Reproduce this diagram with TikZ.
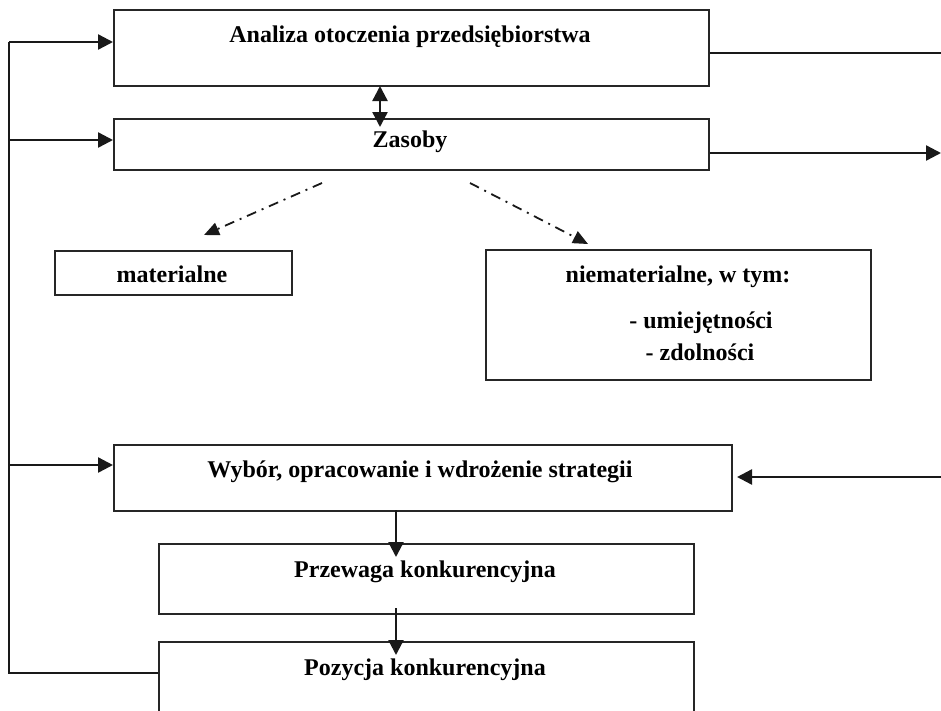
\documentclass[tikz,border=0pt]{standalone}
\usepackage{fontspec}
\setmainfont{Liberation Serif}
\usetikzlibrary{arrows.meta}
\begin{document}
\begin{tikzpicture}[x=1pt,y=-1pt,
  box/.style={draw=black!85,line width=2pt,rectangle,anchor=north west,inner sep=0pt},
  lbl/.style={font=\fontsize{24}{27}\selectfont\bfseries,inner sep=0pt,anchor=base},
  conn/.style={line width=2.4pt,black!90},
  tip/.style={-{Triangle[length=15pt,width=15pt]}},
  dd/.style={line width=1.8pt,black!90,dash pattern=on 10pt off 6pt on 2pt off 6pt,-{Triangle[length=15pt,width=13pt]}}]
\useasboundingbox (0,0) rectangle (941,710);
% boxes
\node[box,minimum width=595pt,minimum height=76pt] (A) at (113,9) {};
\node[box,minimum width=595pt,minimum height=51pt] (Z) at (113,118) {};
\node[box,minimum width=237pt,minimum height=44pt] (M) at (54,250) {};
\node[box,minimum width=385pt,minimum height=130pt] (N) at (485,249) {};
\node[box,minimum width=618pt,minimum height=66pt] (W) at (113,444) {};
\node[box,minimum width=535pt,minimum height=70pt] (P) at (158,543) {};
\node[box,minimum width=535pt,minimum height=80pt] (K) at (158,641) {};
% labels
\node[lbl] (tA) at (410,42) {Analiza otoczenia przedsiębiorstwa};
\node[lbl] (tZ) at (410,147) {Zasoby};
\node[lbl] (tM) at (172,282) {materialne};
\node[lbl] (tN) at (678,282) {niematerialne, w tym:};
\node[lbl] (tN2) at (701,328) {- umiejętności};
\node[lbl] (tN3) at (700,360) {- zdolności};
\node[lbl] (tW) at (420,477) {Wybór, opracowanie i wdrożenie strategii};
\node[lbl] (tP) at (425,577) {Przewaga konkurencyjna};
\node[lbl] (tK) at (425,675) {Pozycja konkurencyjna};
% coordinates
\coordinate (L1) at (9,42);
\coordinate (L2) at (9,140);
\coordinate (L3) at (9,465);
\coordinate (L4) at (9,673);
\coordinate (R1) at (941,53);
\coordinate (R2) at (941,153);
\coordinate (R3) at (941,477);
\coordinate (Rt) at (737,477);
\coordinate (d1s) at (322,183);
\coordinate (d1e) at (204,235);
\coordinate (d2s) at (470,183);
\coordinate (d2e) at (588,244);
\coordinate (v1s) at (396,510);
\coordinate (v1e) at (396,557);
\coordinate (v2s) at (396,608);
\coordinate (v2e) at (396,655);
\coordinate (ds) at (380,86);
\coordinate (de) at (380,127);
% left loop
\draw[conn] (L1) -- (L4) -- (K.west |- L4);
\draw[conn,tip] (L1) -- (A.west |- L1);
\draw[conn,tip] (L2) -- (Z.west |- L2);
\draw[conn,tip] (L3) -- (W.west |- L3);
% right side
\draw[conn] (A.east |- R1) -- (R1);
\draw[conn,tip] (Z.east |- R2) -- (R2);
\draw[conn,tip] (R3) -- (Rt);
% double arrow
\draw[conn,{Triangle[length=15pt,width=15pt]}-{Triangle[length=15pt,width=15pt]}] (ds) -- (de);
% vertical chain
\draw[conn,tip] (v1s) -- (v1e);
\draw[conn,tip] (v2s) -- (v2e);
% dash-dot
\draw[dd] (d1s) -- (d1e);
\draw[dd] (d2s) -- (d2e);
\end{tikzpicture}
\end{document}
